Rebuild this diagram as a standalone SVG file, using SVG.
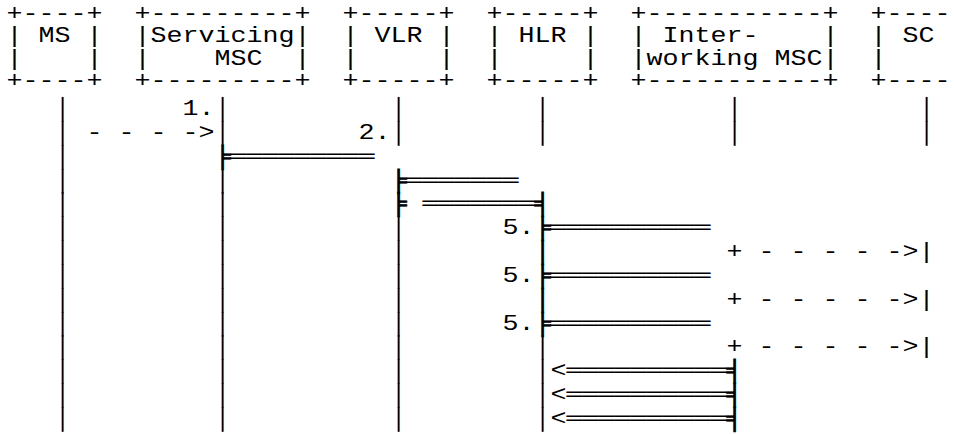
<svg xmlns="http://www.w3.org/2000/svg" width="956" height="434" viewBox="0 0 956 434">
<style>
text{font-family:"Liberation Mono","DejaVu Sans Mono",monospace;font-size:22px;fill:#000;white-space:pre}
.k{stroke:#000;stroke-width:0.7}
</style>
<rect width="956" height="434" fill="#fff"/>
<g transform="scale(1.21212,1)">
<g id="node-ms">
<text x="5.36" y="19.8">+----+</text>
<text x="5.36" y="42.4">| MS |</text>
<text x="5.36" y="64.8">|    |</text>
<text x="5.36" y="87.2">+----+</text>
<text x="44.96"><tspan y="115">│</tspan><tspan x="44.96" y="138.85">│</tspan><tspan x="44.96" y="162.7">│</tspan><tspan x="44.96" y="186.55">│</tspan><tspan x="44.96" y="210.4">│</tspan><tspan x="44.96" y="234.25">│</tspan><tspan x="44.96" y="258.1">│</tspan><tspan x="44.96" y="281.95">│</tspan><tspan x="44.96" y="305.8">│</tspan><tspan x="44.96" y="329.65">│</tspan><tspan x="44.96" y="353.5">│</tspan><tspan x="44.96" y="377.35">│</tspan><tspan x="44.96" y="401.2">│</tspan><tspan x="44.96" y="425.05">│</tspan></text>
</g>
<g id="node-servicing-msc">
<text x="110.96" y="19.8">+---------+</text>
<text x="110.96" y="42.4">|Servicing|</text>
<text x="110.96" y="64.8">|    MSC  |</text>
<text x="110.96" y="87.2">+---------+</text>
<text x="176.96"><tspan y="115">│</tspan><tspan x="176.96" y="138.85">│</tspan><tspan x="176.96" y="186.55">│</tspan><tspan x="176.96" y="210.4">│</tspan><tspan x="176.96" y="234.25">│</tspan><tspan x="176.96" y="258.1">│</tspan><tspan x="176.96" y="281.95">│</tspan><tspan x="176.96" y="305.8">│</tspan><tspan x="176.96" y="329.65">│</tspan><tspan x="176.96" y="353.5">│</tspan><tspan x="176.96" y="377.35">│</tspan><tspan x="176.96" y="401.2">│</tspan><tspan x="176.96" y="425.05">│</tspan></text>
</g>
<g id="node-vlr">
<text x="282.56" y="19.8">+-----+</text>
<text x="282.56" y="42.4">| VLR |</text>
<text x="282.56" y="64.8">|     |</text>
<text x="282.56" y="87.2">+-----+</text>
<text x="322.16"><tspan y="115">│</tspan><tspan x="322.16" y="138.85">│</tspan><tspan x="322.16" y="234.25">│</tspan><tspan x="322.16" y="258.1">│</tspan><tspan x="322.16" y="281.95">│</tspan><tspan x="322.16" y="305.8">│</tspan><tspan x="322.16" y="329.65">│</tspan><tspan x="322.16" y="353.5">│</tspan><tspan x="322.16" y="377.35">│</tspan><tspan x="322.16" y="401.2">│</tspan><tspan x="322.16" y="425.05">│</tspan></text>
</g>
<g id="node-hlr">
<text x="401.36" y="19.8">+-----+</text>
<text x="401.36" y="42.4">| HLR |</text>
<text x="401.36" y="64.8">|     |</text>
<text x="401.36" y="87.2">+-----+</text>
<text x="440.96"><tspan y="115">│</tspan><tspan x="440.96" y="138.85">│</tspan><tspan class="k" x="440.96" y="258.1">│</tspan><tspan class="k" x="440.96" y="305.8">│</tspan><tspan x="440.96" y="353.5">│</tspan><tspan x="440.96" y="377.35">│</tspan><tspan x="440.96" y="401.2">│</tspan><tspan x="440.96" y="425.05">│</tspan></text>
</g>
<g id="node-interworking-msc">
<text x="520.16" y="19.8">+-----------+</text>
<text x="520.16" y="42.4">| Inter-    |</text>
<text x="520.16" y="64.8">|working MSC|</text>
<text x="520.16" y="87.2">+-----------+</text>
<text x="599.36"><tspan y="115">│</tspan><tspan x="599.36" y="138.85">│</tspan></text>
</g>
<g id="node-sc">
<text x="718.16" y="19.8">+----</text>
<text x="718.16" y="42.4">| SC</text>
<text x="718.16" y="64.8">|</text>
<text x="718.16" y="87.2">+----</text>
<text x="757.76"><tspan y="115">│</tspan><tspan x="757.76" y="138.85">│</tspan></text>
</g>
<g id="connectors">
<text x="150.56" y="115">1.</text>
<text x="71.36" y="138.85">- - - -&gt;</text>
<text x="295.76" y="138.85">2.</text>
<text x="176.96" y="162.7"><tspan class="k">╞</tspan>═════════</text>
<text x="322.16" y="186.55"><tspan class="k">╞</tspan>═══════</text>
<text x="322.16" y="210.4"><tspan class="k">╞</tspan> ═══════<tspan class="k">╡</tspan></text>
<text x="414.56" y="234.25">5.<tspan class="k">╞</tspan>══════════</text>
<text x="599.36" y="258.1">+ - - - - -&gt;|</text>
<text x="414.56" y="281.95">5.<tspan class="k">╞</tspan>══════════</text>
<text x="599.36" y="305.8">+ - - - - -&gt;|</text>
<text x="414.56" y="329.65">5.<tspan class="k">╞</tspan>══════════</text>
<text x="599.36" y="353.5">+ - - - - -&gt;|</text>
<text x="454.16" y="377.35">&lt;══════════<tspan class="k">╡</tspan></text>
<text x="454.16" y="401.2">&lt;══════════<tspan class="k">╡</tspan></text>
<text x="454.16" y="425.05">&lt;══════════<tspan class="k">╡</tspan></text>
</g>
</g>
</svg>
